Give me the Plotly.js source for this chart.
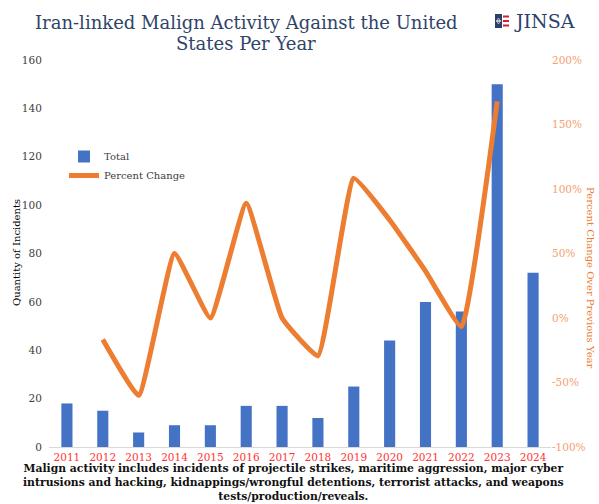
<!DOCTYPE html>
<html><head><meta charset="utf-8">
<script src="https://cdn.plot.ly/plotly-3.0.1.min.js"></script>
<style>html,body{margin:0;padding:0;background:#fff}#chart{width:599px;height:504px}#note{position:absolute;left:0;top:0;width:1px;height:1px;overflow:hidden}</style>
</head><body><div id="chart"></div><div id="note"></div>
<script>
const years = ['2011','2012','2013','2014','2015','2016','2017','2018','2019','2020','2021','2022','2023','2024'];
const totals = [18,15,6,9,9,17,17,12,25,44,60,56,150,72];
const pctYears = ['2012','2013','2014','2015','2016','2017','2018','2019','2020','2021','2022','2023'];
const pctChange = [-16.7,-60,50,0,88.9,0,-29.4,108.3,76,36.4,-6.7,167.9];
const leftTicks = [0,20,40,60,80,100,120,140,160];
const rightTicks = [-100,-50,0,50,100,150,200];
const rightTickText = ['-100%','-50%','0%','50%','100%','150%','200%'];

const L=49, R=551, T=60, B=447;
const px=x=>(x-L)/(R-L), py=y=>(B-y)/(B-T);
const serif='"DejaVu Serif", serif';

const flagSvg='<svg xmlns="http://www.w3.org/2000/svg" width="28" height="28" viewBox="0 0 28 28">'+
 '<rect x="0" y="0" width="28" height="28" fill="#fff"/>'+
 '<rect x="0" y="0" width="14" height="28" fill="#2B3F6B"/>'+
 '<path d="M7 8 L11 15 L3 15 Z M7 20 L3 13 L11 13 Z" fill="none" stroke="#fff" stroke-width="1.2"/>'+
 '<rect x="16" y="3" width="12" height="4" fill="#D0202E"/>'+
 '<rect x="16" y="12" width="12" height="4" fill="#D0202E"/>'+
 '<rect x="16" y="21" width="12" height="4" fill="#D0202E"/></svg>';

const traces=[
 {type:'bar',x:years,y:totals,name:'Total',marker:{color:'#4472C4'},xaxis:'x',yaxis:'y'},
 {type:'scatter',mode:'lines',x:pctYears,y:pctChange,name:'Percent Change',xaxis:'x',yaxis:'y2',
  line:{color:'#ED7D31',width:5,shape:'spline',smoothing:0.35}}
];
const layout={
 width:599,height:504,margin:{l:L,r:599-R,t:T,b:504-B},
 paper_bgcolor:'#fff',plot_bgcolor:'#fff',bargap:0.69,showlegend:true,
 font:{family:serif,size:10,color:'#595959'},
 xaxis:{type:'category',anchor:'y',showgrid:false,showline:true,linecolor:'#d9d9d9',linewidth:1,ticks:'',
  tickfont:{family:serif,size:10.5,color:'#FF3333'}},
 yaxis:{range:[0,160],tickmode:'array',tickvals:leftTicks,showgrid:false,zeroline:false,showline:false,
  ticks:'outside',ticklen:4,tickcolor:'rgba(0,0,0,0)',tickfont:{family:serif,size:10.5,color:'#404040'}},
 yaxis2:{overlaying:'y',side:'right',anchor:'x',range:[-100,200],tickmode:'array',tickvals:rightTicks,ticktext:rightTickText,
  showgrid:false,zeroline:false,showline:false,ticks:'',tickfont:{family:serif,size:10.5,color:'#F4A070'}},
 legend:{x:px(64),y:py(142),xanchor:'left',yanchor:'top',bgcolor:'rgba(0,0,0,0)',font:{family:serif,size:10,color:'#404040'},
  tracegroupgap:0,itemwidth:30},
 annotations:[
  {xref:'paper',yref:'paper',x:px(246),y:py(23),yanchor:'middle',xanchor:'center',showarrow:false,
   text:'Iran-linked Malign Activity Against the United',font:{family:serif,size:18,color:'#2F4468'}},
  {xref:'paper',yref:'paper',x:px(246),y:py(43),yanchor:'middle',xanchor:'center',showarrow:false,
   text:'States Per Year',font:{family:serif,size:18,color:'#2F4468'}},
  {xref:'paper',yref:'paper',x:px(512),y:py(21),xanchor:'left',yanchor:'middle',showarrow:false,
   text:'JINSA',font:{family:serif,size:19,color:'#2B3F6B'}},
  {xref:'paper',yref:'paper',x:px(17),y:py(253),xanchor:'center',yanchor:'middle',textangle:-90,showarrow:false,
   text:'Quantity of Incidents',font:{family:serif,size:10,color:'#000'}},
  {xref:'paper',yref:'paper',x:px(591),y:py(278),xanchor:'center',yanchor:'middle',textangle:90,showarrow:false,
   text:'Percent Change Over Previous Year',font:{family:serif,size:10,color:'#ED7D31'}},
  {xref:'paper',yref:'paper',x:px(293),y:py(482),xanchor:'center',yanchor:'middle',showarrow:false,
   text:'<b>Malign activity includes incidents of projectile strikes, maritime aggression, major cyber<br>intrusions and hacking, kidnappings/wrongful detentions, terrorist attacks, and weapons<br>tests/production/reveals.</b>',
   font:{family:serif,size:10.8,color:'#111'}}
 ],
 images:[
  {source:'data:image/svg+xml;charset=utf-8,'+encodeURIComponent(flagSvg),xref:'paper',yref:'paper',
   x:px(495),y:py(14),sizex:px(509)-px(495),sizey:14/(B-T),xanchor:'left',yanchor:'top',sizing:'stretch',layer:'above'}
 ]
};
Plotly.newPlot('chart',traces,layout,{displayModeBar:false,staticPlot:true}).then(()=>{
  const t=document.querySelector('.xtick text');
  if(t){const r=t.getBoundingClientRect();document.getElementById('note').textContent=String(Math.round(r.y));}
});
</script></body></html>
